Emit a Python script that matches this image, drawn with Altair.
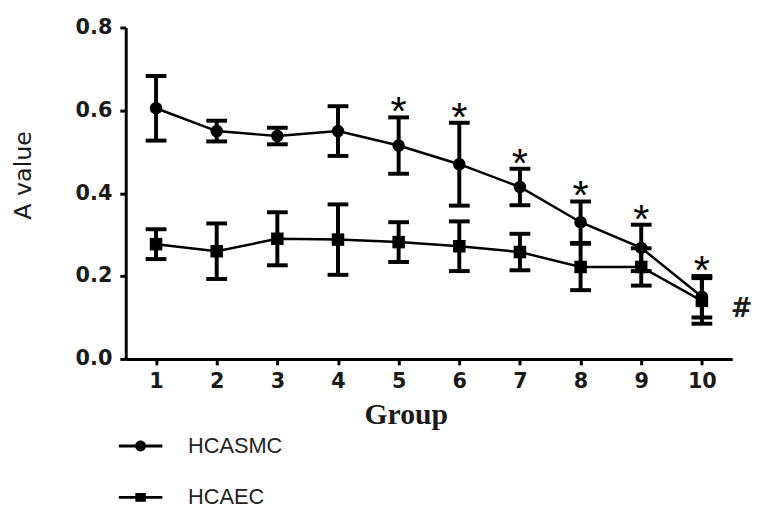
import altair as alt
import pandas as pd

groups = [1, 2, 3, 4, 5, 6, 7, 8, 9, 10]
series_names = ["HCASMC", "HCAEC"]
hcasmc_mean = [0.605, 0.550, 0.538, 0.550, 0.515, 0.470, 0.415, 0.330, 0.268, 0.150]
hcasmc_err = [0.078, 0.025, 0.020, 0.060, 0.068, 0.100, 0.044, 0.050, 0.056, 0.050]
hcaec_mean = [0.277, 0.260, 0.290, 0.288, 0.282, 0.272, 0.258, 0.222, 0.222, 0.140]
hcaec_err = [0.036, 0.067, 0.064, 0.085, 0.048, 0.060, 0.044, 0.056, 0.045, 0.055]
star_groups = [5, 6, 7, 8, 9, 10]
hash_groups = [10]

rows = []
for s, means, errs in [("HCASMC", hcasmc_mean, hcasmc_err), ("HCAEC", hcaec_mean, hcaec_err)]:
    for g, m, e in zip(groups, means, errs):
        rows.append({"Group": g, "Series": s, "mean": m, "lo": m - e, "hi": m + e,
                     "star": "*" if (s == "HCASMC" and g in star_groups) else "",
                     "hash": "#" if (s == "HCAEC" and g in hash_groups) else ""})
df = pd.DataFrame(rows)

x = alt.X("Group:Q", scale=alt.Scale(domain=[0.5, 10.5], nice=False, zero=False),
          axis=alt.Axis(values=groups, title="Group", format="d",
                        titleFont="Liberation Serif", titleFontSize=30, titleFontWeight="bold",
                        titleX=283, titleY=65, titleBaseline="alphabetic"))
y = alt.Y("mean:Q", scale=alt.Scale(domain=[0, 0.8], nice=False),
          axis=alt.Axis(values=[0, 0.2, 0.4, 0.6, 0.8], format=".1f", title="A value",
                        titleFont="DejaVu Sans", titleFontSize=24, titleFontWeight="normal",
                        titleX=-103, titleY=149, titleAngle=270,
                        titleAlign="center", titleBaseline="middle"))

base = alt.Chart(df)

lines = base.mark_line(color="black", strokeWidth=2.5).encode(x=x, y=y, detail="Series:N")
rules = base.mark_rule(color="black", strokeWidth=4).encode(x="Group:Q", y="lo:Q", y2="hi:Q")
cap_hi = base.mark_tick(color="black", thickness=4, size=21, orient="horizontal", opacity=1).encode(
    x="Group:Q", y="hi:Q")
cap_lo = base.mark_tick(color="black", thickness=4, size=21, orient="horizontal", opacity=1).encode(
    x="Group:Q", y="lo:Q")
points = base.mark_point(filled=True, color="black", opacity=1, size=160).encode(
    x="Group:Q", y="mean:Q",
    shape=alt.Shape("Series:N", scale=alt.Scale(domain=series_names, range=["circle", "square"]),
                    legend=None))

circle_path = "M-1,-0.065H1V0.065H-1Z M0.25,0A0.25,0.25,0,1,1,-0.25,0A0.25,0.25,0,1,1,0.25,0Z"
square_path = "M-1,-0.065H1V0.065H-1Z M-0.24,-0.2H0.24V0.2H-0.24Z"
legend_layer = base.mark_point(filled=True, color="black", opacity=0, size=1936).encode(
    x="Group:Q", y="mean:Q",
    shape=alt.Shape("Series:N", scale=alt.Scale(domain=series_names, range=[circle_path, square_path]),
                    legend=alt.Legend(title=None, orient="none", legendX=-7, legendY=401,
                                      symbolOpacity=1, symbolFillColor="black", symbolStrokeColor="black",
                                      symbolStrokeWidth=0, symbolSize=1936, labelOffset=26,
                                      labelFont="Liberation Sans", labelFontSize=22,
                                      labelColor="#222222", rowPadding=19, symbolLimit=0)))

stars = base.mark_text(fontSize=42, font="Liberation Sans", color="black", baseline="middle", dy=-5).encode(
    x="Group:Q", y="hi:Q", text="star:N")
hashes = base.mark_text(fontSize=26, font="DejaVu Sans", fontWeight="bold", color="#1a1a1a",
                        baseline="middle", align="center", dx=40, dy=8).encode(
    x="Group:Q", y="mean:Q", text="hash:N")

chart = alt.layer(lines, rules, cap_hi, cap_lo, points, legend_layer, stars, hashes).resolve_scale(
    shape="independent"
).properties(
    width=613, height=335,
    autosize=alt.AutoSizeParams(type="none"),
    padding={"left": 119, "top": 17, "right": 19, "bottom": 150},
).configure(background="white").configure_view(strokeWidth=0, stroke="transparent").configure_axis(
    grid=False, domainWidth=3, domainColor="black", tickWidth=3, tickColor="black", tickSize=6,
    labelFont="DejaVu Sans", labelFontSize=21, labelFontWeight="bold", labelColor="#1a1a1a",
    titleColor="#1a1a1a",
).configure_axisX(labelPadding=6).configure_axisY(labelPadding=8)

chart.save("out.html", embed_options={"renderer": "svg", "actions": False})
